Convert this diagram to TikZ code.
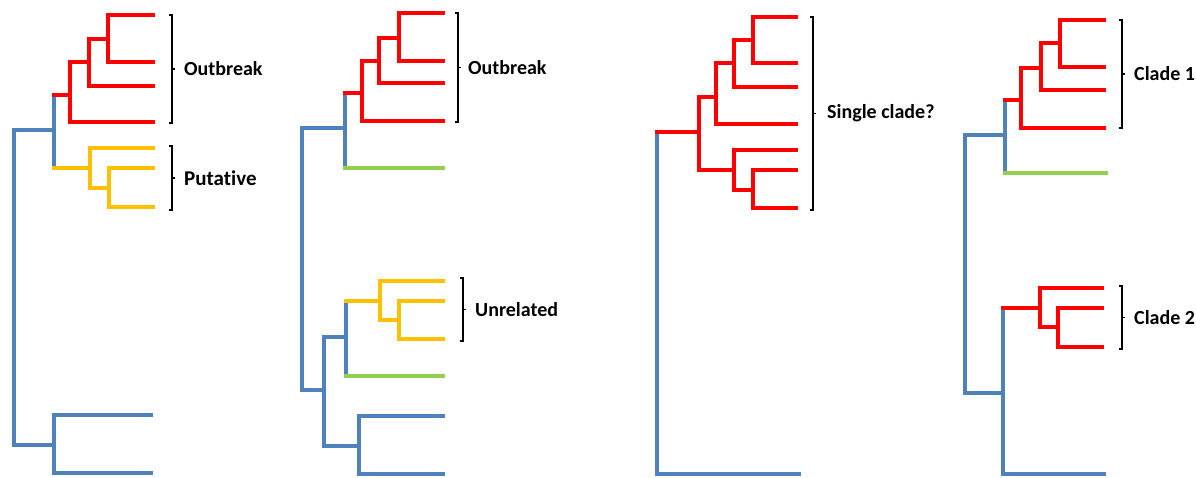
\documentclass[tikz,border=0pt]{standalone}
\usepackage{fontspec}
\setmainfont[RawFeature=-liga]{Carlito}
\definecolor{treeblue}{HTML}{4F81BD}
\definecolor{treered}{HTML}{FF0000}
\definecolor{treeyellow}{HTML}{FFC000}
\definecolor{treegreen}{HTML}{92D050}
\tikzset{
  branch/.style={line width=4.4pt, line cap=rect},
  bluebranch/.style={branch, draw=treeblue},
  redbranch/.style={branch, draw=treered},
  yellowbranch/.style={branch, draw=treeyellow},
  greenbranch/.style={branch, draw=treegreen},
  bracketline/.style={draw=black, line width=1.4pt},
  cladelabel/.style={anchor=west, inner sep=0pt, font=\fontsize{20}{23}\selectfont\bfseries},
}
% edge whose vertical part keeps the parent's colour and horizontal part the child's
\newcommand\twotone[4]{\draw[#3] (#1) -- (#1 |- #2); \draw[#4] (#1 |- #2) -- (#2);}
% square bracket with a middle tick and a label
\newcommand\cladebracket[6][]{%
  \coordinate (#2t) at (#3,#4);
  \coordinate (#2b) at (#3,#5);
  \coordinate (#2m) at (#3,{(#4+#5)/2});
  \draw[bracketline] ([xshift=-3pt]#2t) -- (#2t) -- (#2b) -- ([xshift=-3pt]#2b);
  \draw[bracketline] (#2m) -- ([xshift=3pt]#2m);
  \node[cladelabel,#1] (#2l) at ([xshift=12pt]#2m) {#6};
}
\begin{document}
\begin{tikzpicture}[x=1pt,y=-1pt]
\useasboundingbox (0,0) rectangle (1196,478);

% ---------- tree 1 ----------
\coordinate (A0) at (14,130);
\coordinate (A1) at (54,130);
\coordinate (A2) at (54,445);
\coordinate (A3) at (70,95);
\coordinate (A4) at (89,62);
\coordinate (A5) at (108,39);
\coordinate (A6) at (90,168);
\coordinate (A7) at (109,188);
\coordinate (Aa) at (153,15);
\coordinate (Ab) at (153,62);
\coordinate (Ac) at (153,86);
\coordinate (Ad) at (153,122);
\coordinate (Ae) at (153,148);
\coordinate (Af) at (153,168);
\coordinate (Ag) at (153,207);
\coordinate (Ah) at (151,415);
\coordinate (Ai) at (151,473);
\draw[bluebranch] (A0) |- (A1);
\draw[bluebranch] (A0) |- (A2);
\draw[bluebranch] (A2) |- (Ah);
\draw[bluebranch] (A2) |- (Ai);
\twotone{A1}{A3}{bluebranch}{redbranch}
\twotone{A1}{A6}{bluebranch}{yellowbranch}
\draw[redbranch] (A3) |- (A4);
\draw[redbranch] (A3) |- (Ad);
\draw[redbranch] (A4) |- (A5);
\draw[redbranch] (A4) |- (Ac);
\draw[redbranch] (A5) |- (Aa);
\draw[redbranch] (A5) |- (Ab);
\draw[yellowbranch] (A6) |- (Ae);
\draw[yellowbranch] (A6) |- (A7);
\draw[yellowbranch] (A7) |- (Af);
\draw[yellowbranch] (A7) |- (Ag);
\cladebracket{k1}{172}{15}{123}{Outbreak}
\cladebracket[font=\fontsize{21}{24}\selectfont\bfseries]{k2}{172}{146}{210}{Putative}

% ---------- tree 2 ----------
\coordinate (B0) at (302,128);
\coordinate (B1) at (345,128);
\coordinate (B2) at (324,390);
\coordinate (B3) at (362,93);
\coordinate (B4) at (379,61);
\coordinate (B5) at (399,38);
\coordinate (B6) at (346,337);
\coordinate (B7) at (380,301);
\coordinate (B8) at (399,320);
\coordinate (B9) at (359,446);
\coordinate (Ba) at (443,13);
\coordinate (Bb) at (443,61);
\coordinate (Bc) at (443,83);
\coordinate (Bd) at (443,121);
\coordinate (Be) at (443,168);
\coordinate (Bf) at (443,281);
\coordinate (Bg) at (443,301);
\coordinate (Bh) at (443,339);
\coordinate (Bi) at (443,376);
\coordinate (Bj) at (443,416);
\coordinate (Bk) at (443,474);
\draw[bluebranch] (B0) |- (B1);
\draw[bluebranch] (B0) |- (B2);
\draw[bluebranch] (B2) |- (B6);
\draw[bluebranch] (B2) |- (B9);
\draw[bluebranch] (B9) |- (Bj);
\draw[bluebranch] (B9) |- (Bk);
\twotone{B1}{B3}{bluebranch}{redbranch}
\twotone{B1}{Be}{bluebranch}{greenbranch}
\twotone{B6}{B7}{bluebranch}{yellowbranch}
\twotone{B6}{Bi}{bluebranch}{greenbranch}
\draw[redbranch] (B3) |- (B4);
\draw[redbranch] (B3) |- (Bd);
\draw[redbranch] (B4) |- (B5);
\draw[redbranch] (B4) |- (Bc);
\draw[redbranch] (B5) |- (Ba);
\draw[redbranch] (B5) |- (Bb);
\draw[yellowbranch] (B7) |- (Bf);
\draw[yellowbranch] (B7) |- (B8);
\draw[yellowbranch] (B8) |- (Bg);
\draw[yellowbranch] (B8) |- (Bh);
\cladebracket[xshift=-2pt]{k3}{458}{13}{122}{Outbreak}
\cladebracket{k4}{463}{278}{341}{Unrelated}

% ---------- tree 3 ----------
\coordinate (C0) at (657,132);
\coordinate (C1) at (699,132);
\coordinate (C2) at (716,97);
\coordinate (C3) at (734,63);
\coordinate (C4) at (753,40);
\coordinate (C5) at (734,170);
\coordinate (C6) at (753,190);
\coordinate (Ca) at (796,17);
\coordinate (Cb) at (796,63);
\coordinate (Cc) at (796,87);
\coordinate (Cd) at (796,124);
\coordinate (Ce) at (796,150);
\coordinate (Cf) at (796,170);
\coordinate (Cg) at (796,208);
\coordinate (Ch) at (799,474);
\draw[bluebranch] (C0) |- (Ch);
\draw[redbranch] (C0) |- (C1);
\draw[redbranch] (C1) |- (C2);
\draw[redbranch] (C1) |- (C5);
\draw[redbranch] (C2) |- (C3);
\draw[redbranch] (C2) |- (Cd);
\draw[redbranch] (C3) |- (C4);
\draw[redbranch] (C3) |- (Cc);
\draw[redbranch] (C4) |- (Ca);
\draw[redbranch] (C4) |- (Cb);
\draw[redbranch] (C5) |- (Ce);
\draw[redbranch] (C5) |- (C6);
\draw[redbranch] (C6) |- (Cf);
\draw[redbranch] (C6) |- (Cg);
\cladebracket[xshift=2pt]{k5}{813}{17}{210}{Single clade?}

% ---------- tree 4 ----------
\coordinate (D0) at (965,135);
\coordinate (D1) at (1005,135);
\coordinate (D2) at (1003,393);
\coordinate (D3) at (1021,100);
\coordinate (D4) at (1041,68);
\coordinate (D5) at (1060,43);
\coordinate (D6) at (1040,308);
\coordinate (D7) at (1058,327);
\coordinate (Da) at (1104,20);
\coordinate (Db) at (1104,67);
\coordinate (Dc) at (1104,90);
\coordinate (Dd) at (1104,128);
\coordinate (De) at (1106,173);
\coordinate (Df) at (1102,288);
\coordinate (Dg) at (1102,308);
\coordinate (Dh) at (1102,347);
\coordinate (Di) at (1104,474);
\draw[bluebranch] (D0) |- (D1);
\draw[bluebranch] (D0) |- (D2);
\draw[bluebranch] (D2) |- (Di);
\twotone{D1}{D3}{bluebranch}{redbranch}
\twotone{D1}{De}{bluebranch}{greenbranch}
\twotone{D2}{D6}{bluebranch}{redbranch}
\draw[redbranch] (D3) |- (D4);
\draw[redbranch] (D3) |- (Dd);
\draw[redbranch] (D4) |- (D5);
\draw[redbranch] (D4) |- (Dc);
\draw[redbranch] (D5) |- (Da);
\draw[redbranch] (D5) |- (Db);
\draw[redbranch] (D6) |- (Df);
\draw[redbranch] (D6) |- (D7);
\draw[redbranch] (D7) |- (Dg);
\draw[redbranch] (D7) |- (Dh);
\cladebracket{k6}{1122}{20}{128}{Clade 1}
\cladebracket{k7}{1122}{286}{349}{Clade 2}
\end{tikzpicture}
\end{document}
